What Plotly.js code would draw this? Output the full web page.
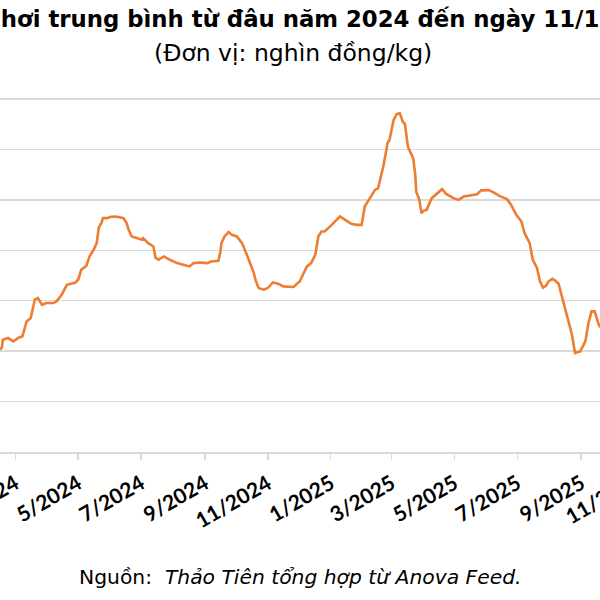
<!DOCTYPE html>
<html>
<head>
<meta charset="utf-8">
<script src="https://cdn.plot.ly/plotly-3.0.1.min.js"></script>
<style>html,body{margin:0;padding:0;background:#fff;}#chart{width:600px;height:600px;}</style>
</head>
<body>
<div id="chart"></div>
<script>
// Average live hog price (thousand VND/kg)
const dates = [
  "2024-02-15","2024-02-17","2024-02-18","2024-02-23","2024-02-28","2024-03-04","2024-03-08","2024-03-12",
  "2024-03-16","2024-03-20","2024-03-23","2024-03-27","2024-03-31","2024-04-07","2024-04-10","2024-04-15",
  "2024-04-20","2024-04-25","2024-04-28","2024-05-01","2024-05-04","2024-05-09","2024-05-12","2024-05-16",
  "2024-05-19","2024-05-21","2024-05-24","2024-05-25","2024-05-29","2024-06-02","2024-06-06","2024-06-10",
  "2024-06-14","2024-06-17","2024-06-19","2024-06-22","2024-06-27","2024-07-02","2024-07-03","2024-07-08",
  "2024-07-13","2024-07-15","2024-07-18","2024-07-23","2024-07-29","2024-08-05","2024-08-11","2024-08-17",
  "2024-08-21","2024-08-27","2024-09-03","2024-09-07","2024-09-14","2024-09-16","2024-09-17","2024-09-20",
  "2024-09-24","2024-09-27","2024-10-02","2024-10-07","2024-10-11","2024-10-15","2024-10-18","2024-10-20",
  "2024-10-23","2024-10-28","2024-11-01","2024-11-06","2024-11-11","2024-11-16","2024-11-21","2024-11-26",
  "2024-11-30","2024-12-02","2024-12-05","2024-12-09","2024-12-13","2024-12-17","2024-12-20","2024-12-23",
  "2024-12-26","2024-12-30","2025-01-02","2025-01-05","2025-01-10","2025-01-15","2025-01-21","2025-01-26",
  "2025-01-31","2025-02-03","2025-02-06","2025-02-10","2025-02-13","2025-02-16","2025-02-19","2025-02-21",
  "2025-02-24","2025-02-25","2025-02-27","2025-03-03","2025-03-06","2025-03-09","2025-03-12","2025-03-14",
  "2025-03-16","2025-03-17","2025-03-19","2025-03-22","2025-03-24","2025-03-25","2025-03-28","2025-03-30",
  "2025-04-01","2025-04-04","2025-04-09","2025-04-14","2025-04-19","2025-04-23","2025-04-30","2025-05-05",
  "2025-05-10","2025-05-16","2025-05-23","2025-05-27","2025-06-03","2025-06-08","2025-06-14","2025-06-21",
  "2025-06-25","2025-06-30","2025-07-05","2025-07-08","2025-07-13","2025-07-16","2025-07-20","2025-07-23",
  "2025-07-26","2025-07-29","2025-07-31","2025-08-04","2025-08-07","2025-08-10","2025-08-11","2025-08-15",
  "2025-08-19","2025-08-23","2025-08-26","2025-08-31","2025-09-05","2025-09-08","2025-09-11","2025-09-14",
  "2025-09-18","2025-09-19","2025-09-22"
];
const prices = [
  55.15,55.35,56.14,56.31,55.97,56.31,56.47,57.95,
  58.29,60.10,60.27,59.60,59.77,59.77,59.93,60.59,
  61.58,61.75,61.78,62.08,63.07,63.47,64.39,65.05,
  65.71,67.23,67.82,68.19,68.19,68.32,68.35,68.27,
  68.19,67.69,67.03,66.37,66.21,66.04,66.21,65.71,
  65.38,64.26,64.06,64.39,64.06,63.73,63.56,63.40,
  63.73,63.79,63.73,63.89,63.96,64.85,65.71,66.37,
  66.80,66.53,66.37,65.71,64.72,63.73,62.87,62.08,
  61.26,61.09,61.26,61.81,61.68,61.42,61.42,61.36,
  61.75,61.91,62.57,63.40,63.73,64.55,66.37,66.86,
  66.86,67.20,67.52,67.85,68.35,68.02,67.62,67.52,
  67.52,69.34,69.83,70.50,70.99,71.16,72.48,73.30,
  74.95,75.61,75.94,77.92,78.51,78.58,77.75,77.52,
  75.94,75.25,74.78,74.13,72.48,70.79,70.00,68.68,
  68.91,69.01,70.17,70.66,71.06,70.59,70.17,70.00,
  70.33,70.43,70.56,70.94,70.96,70.74,70.37,70.07,
  69.50,68.51,67.85,66.70,65.71,64.06,63.27,61.91,
  61.29,61.49,61.88,62.18,61.98,61.68,61.29,59.60,
  58.12,56.63,54.82,54.98,55.97,57.79,58.94,58.94,
  57.62,57.46,57.50
];
const tickDates = ["2024-03-01","2024-05-01","2024-07-01","2024-09-01","2024-11-01","2025-01-01","2025-03-01","2025-05-01","2025-07-01","2025-09-01"];
const tickLabels = ["3/2024","5/2024","7/2024","9/2024","11/2024","1/2025","3/2025","5/2025","7/2025","9/2025"];
const nextTickLabel = "11/2025";
const titleText = "hơi trung bình từ đâu năm 2024 đến ngày 11/1";
const subtitleText = "(Đơn vị: nghìn đồng/kg)";
const sourceText = "Nguồn:  <i>Thảo Tiên tổng hợp từ Anova Feed.</i>";

const trace = {
  x: dates, y: prices, type: "scatter", mode: "lines",
  line: {color: "#ED7D31", width: 2.6}, hoverinfo: "skip"
};
const layout = {
  width: 600, height: 600,
  margin: {l: 0, r: 0, t: 98, b: 148, pad: 0},
  paper_bgcolor: "#ffffff", plot_bgcolor: "#ffffff",
  showlegend: false,
  title: {
    text: "<b>" + titleText + "</b>",
    x: 0.5, xanchor: "center", xref: "paper",
    y: 1 - 19/600, yanchor: "middle", yref: "container",
    font: {family: "DejaVu Sans", size: 22.8, color: "#000000"}
  },
  xaxis: {
    type: "date",
    range: ["2024-02-15 05:00", "2025-09-19 05:00"],
    tickvals: tickDates, ticktext: tickLabels,
    tickangle: -30,
    ticklabeloverflow: "allow",
    ticklabelstandoff: 4,
    tickfont: {family: "Lato", size: 21, color: "#000000", weight: "bold"},
    ticks: "outside", ticklen: 6, tickwidth: 1.5, tickcolor: "#d9d9d9",
    showline: true, linecolor: "#d9d9d9", linewidth: 1.5,
    showgrid: false, zeroline: false, fixedrange: true
  },
  yaxis: {
    range: [45, 80.1], dtick: 5, tick0: 45,
    showticklabels: false, ticks: "",
    showgrid: true, gridcolor: "#d9d9d9", gridwidth: 1.5,
    zeroline: false, showline: false, fixedrange: true
  },
  annotations: [
    {text: subtitleText, xref: "paper", yref: "paper", x: 293/600, y: (452-53)/354,
     xanchor: "center", yanchor: "middle", showarrow: false,
     font: {family: "DejaVu Sans", size: 23.5, color: "#000000"}},
    {text: sourceText, xref: "paper", yref: "paper", x: 0.5, y: (452-577)/354,
     xanchor: "center", yanchor: "middle", showarrow: false,
     font: {family: "DejaVu Sans", size: 20.3, color: "#000000"}},
    {text: "<b>" + nextTickLabel + "</b>", xref: "paper", yref: "paper", x: 603/600, y: (452-496)/354,
     xanchor: "center", yanchor: "middle", showarrow: false, textangle: -30,
     font: {family: "Lato", size: 21, color: "#000000"}}
  ]
};
Plotly.newPlot("chart", [trace], layout, {displayModeBar: false, staticPlot: true});
</script>
</body>
</html>
